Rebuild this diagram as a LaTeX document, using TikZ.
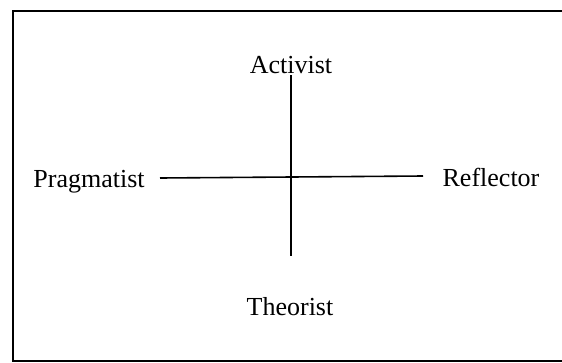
\documentclass[tikz,border=0pt]{standalone}
\usepackage{fontspec}
\setmainfont{Liberation Serif}
\begin{document}
\begin{tikzpicture}[x=1pt,y=-1pt,
  lbl/.style={inner sep=0pt,anchor=base,font=\fontsize{26}{30}\selectfont},
  frame/.style={line width=2pt,line cap=rect},
  axis/.style={line width=1.6pt}]
\useasboundingbox (0,0) rectangle (562,362);
\clip (0,0) rectangle (562,362);
% frame
\coordinate (tl) at (13,11);
\coordinate (tr) at (566,11);
\coordinate (bl) at (13,361);
\coordinate (br) at (566,361);
\draw[frame] (tr) -- (tl) -- (bl) -- (br);
% axes
\coordinate (vt) at (291,75);
\coordinate (vb) at (291,256);
\coordinate (hl) at (160,178);
\coordinate (hr) at (423,176);
\draw[axis] (vt) -- (vb);
\draw[axis] (hl) -- (hr);
% labels
\node[lbl] (act) at (291,73) {Activist};
\node[lbl] (pra) at (89,187) {Pragmatist};
\node[lbl] (ref) at (491,186) {Reflector};
\node[lbl] (the) at (290,315) {Theorist};
\end{tikzpicture}
\end{document}
